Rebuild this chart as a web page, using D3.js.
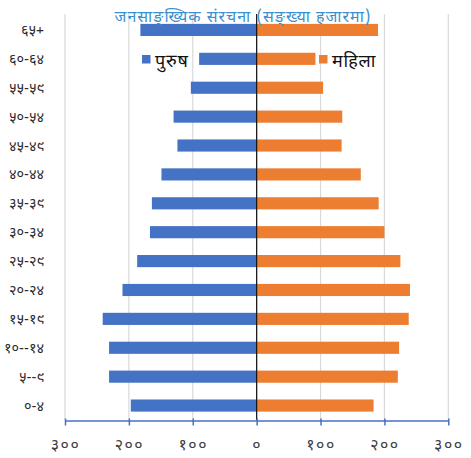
<!DOCTYPE html>
<html lang="ne">
<head>
  <meta charset="UTF-8">
  <title>जनसाङ्ख्यिक संरचना</title>
  <style>
    body { margin: 0; background: #fff; }
    #chart { width: 471px; height: 458px; }
    text { font-family: "Noto Sans Devanagari", "Noto Sans", "Lohit Devanagari", sans-serif; }
  </style>
  <script src="https://d3js.org/d3.v7.min.js"></script>
</head>
<body>
<div id="chart"></div>
<script>
  // age groups, top to bottom
  var ageGroups = ["६५+", "६०-६४", "५५-५९", "५०-५४", "४५-४९", "४०-४४", "३५-३९",
                   "३०-३४", "२५-२९", "२०-२४", "१५-१९", "१०--१४", "५--९", "०-४"];
  // population in thousands
  var male   = [182, 90, 103, 130, 124, 149, 164, 167, 187, 210, 241, 231, 231, 197];
  var female = [190, 92, 104, 134, 133, 163, 191, 200, 225, 240, 238, 223, 221, 183];
  var tickValues = [-300, -200, -100, 0, 100, 200, 300];
  var tickLabels = ["३००", "२००", "१००", "०", "१००", "२००", "३००"];
  var seriesNames = ["पुरुष", "महिला"];
  var title = "जनसाङ्ख्यिक संरचना (सङ्ख्या हजारमा)";

  var width = 471, height = 458;
  var blue = "#4472c4", orange = "#ed7d31";

  var svg = d3.select("#chart").append("svg")
      .attr("width", width)
      .attr("height", height);

  var x = d3.scaleLinear().domain([-300, 300]).range([65, 448.3]);
  var y = d3.scaleBand().domain(ageGroups).range([15.5, 420])
      .paddingInner(0.58).paddingOuter(0.29);

  // gridlines
  svg.append("g").selectAll("line")
      .data(tickValues)
      .join("line")
      .attr("x1", d => x(d)).attr("x2", d => x(d))
      .attr("y1", 14).attr("y2", 420)
      .attr("stroke", "#d9d9d9").attr("stroke-width", 1.2);

  var rows = ageGroups.map((g, i) => ({ group: g, m: male[i], f: female[i] }));

  svg.append("g").selectAll("rect")
      .data(rows)
      .join("rect")
      .attr("x", d => x(-d.m))
      .attr("y", d => y(d.group))
      .attr("width", d => x(0) - x(-d.m))
      .attr("height", y.bandwidth())
      .attr("fill", blue);

  svg.append("g").selectAll("rect")
      .data(rows)
      .join("rect")
      .attr("x", x(0))
      .attr("y", d => y(d.group))
      .attr("width", d => x(d.f) - x(0))
      .attr("height", y.bandwidth())
      .attr("fill", orange);

  // centre line
  svg.append("line")
      .attr("x1", x(0)).attr("x2", x(0))
      .attr("y1", 14).attr("y2", 420)
      .attr("stroke", "#111").attr("stroke-width", 1.2);

  // bottom axis
  var xAxis = d3.axisBottom(x)
      .tickValues(tickValues)
      .tickFormat((d, i) => tickLabels[i])
      .tickSizeInner(5).tickSizeOuter(0).tickPadding(13);
  var ax = svg.append("g").attr("transform", "translate(0,420.5)").call(xAxis);
  ax.select(".domain").attr("stroke", blue).attr("stroke-width", 1.5);
  ax.selectAll(".tick line").attr("stroke", blue).attr("stroke-width", 1.5).attr("y1", -2);
  ax.selectAll(".tick text").attr("fill", "#404040")
      .style("font-size", "16px").style("letter-spacing", "1.5px");

  // category labels
  svg.append("g").selectAll("text")
      .data(ageGroups)
      .join("text")
      .attr("x", 44)
      .attr("y", d => y(d) + y.bandwidth() / 2)
      .attr("dy", "0.35em")
      .attr("text-anchor", "end")
      .attr("fill", "#2a2a2a")
      .style("font-size", "14.5px")
      .text(d => d);

  // title
  svg.append("text")
      .attr("x", 243).attr("y", 16)
      .attr("dy", "0.35em")
      .attr("text-anchor", "middle")
      .attr("fill", "#3a8fd0")
      .style("font-size", "16px")
      .style("letter-spacing", "1px")
      .text(title);

  // legend
  var legend = [
    { name: seriesNames[0], color: blue, x: 142 },
    { name: seriesNames[1], color: orange, x: 319 }
  ];
  var lg = svg.append("g").selectAll("g").data(legend).join("g")
      .attr("transform", d => "translate(" + d.x + ",55)");
  lg.append("rect").attr("width", 8.5).attr("height", 8.5).attr("fill", d => d.color);
  lg.append("text").attr("x", 13).attr("y", 6).attr("dy", "0.35em")
      .attr("fill", "#111").style("font-size", "18px").style("letter-spacing", "0.8px")
      .text(d => d.name);
</script>
</body>
</html>
